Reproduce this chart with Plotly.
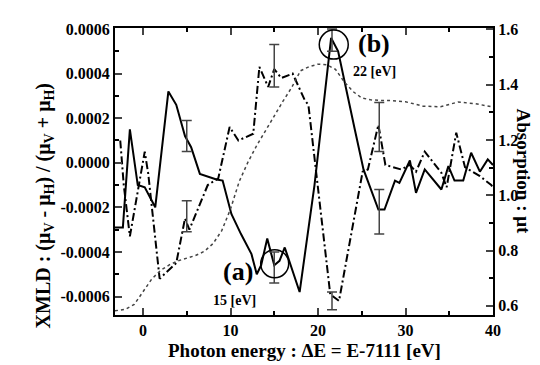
import plotly.graph_objects as go

# ---- data ----
solid_x = [-3.2, -2.3, -1.5, -0.6, 0.2, 1.4, 2.9, 3.8, 4.8, 5.5, 6.5, 8.4, 9.1, 10.1, 11.2, 12.4, 13.0, 13.5,
           14.2, 15.0, 15.6, 16.2, 17.9, 19.6, 21.5, 22.3, 24.2, 25.2, 26.9, 27.6, 28.8, 29.3, 30.5, 31.2,
           32.2, 34.1, 34.9, 35.6, 36.6, 37.5, 38.5, 39.4, 40.0]
solid_y = [-0.00029, -0.00029, 0.00015, -0.00010, -0.00011, -0.00020, 0.00032, 0.00026, 0.00012, 0.00007,
           -0.00005, -0.000075, -0.00008, -0.00023, -0.00032, -0.00041, -0.00050, -0.00046,
           -0.00034, -0.00046, -0.00044, -0.00038, -0.00058, -0.00010, 0.00056, 0.00050, 0.00015, -0.00003,
           -0.00021, -0.00021, -0.00008, -0.00009, 0.00001, -0.000135,
           -0.00003, -0.00012, -0.000015, -0.00008, -0.00008, 0.000045, -0.00004, 0.000015, -0.00001]

dash_x = [-2.6, -2.2, -1.5, 0.2, 0.6, 1.9, 3.8, 4.8, 5.3, 7.4, 8.6, 9.9, 10.9, 12.6, 13.3, 14.3, 15.0, 15.8,
          17.1, 18.5, 18.9, 21.4, 22.4, 25.1, 25.7, 26.9, 27.7, 29.5, 30.5, 31.2, 32.2, 34.1, 34.7, 35.8,
          36.8, 38.5, 39.8, 40.0]
dash_y = [0.00010, -0.00010, -0.00033, 0.00005, -0.00005, -0.00052, -0.00045, -0.00025, -0.00030, -0.00010,
          -0.00007, 0.00016, 0.00010, 0.00013, 0.00043, 0.00034, 0.00042, 0.00038,
          0.00040, 0.00028, 0.00026, -0.00059, -0.00062, -0.00004, -0.00003, 0.00017, -0.00001, -0.00003,
          -0.00001, -0.00004, 0.00005, -0.000045, -0.00011, 0.000135,
          -0.00002, -0.00006, -0.00010, -0.00011]

abs_x = [-3.2, -2.0, -1.0, 0.0, 1.0, 2.0, 3.0, 4.0, 5.0, 6.0, 7.0, 8.0, 9.0, 10.0, 11.0, 12.0, 13.0, 14.0,
         15.0, 16.0, 17.0, 18.0, 19.0, 20.0, 21.0, 22.0, 23.0, 24.0, 25.0, 26.0, 27.0, 28.0, 30.0, 32.0,
         34.0, 36.0, 38.0, 40.0]
abs_y = [0.582, 0.588, 0.605, 0.650, 0.697, 0.728, 0.748, 0.763, 0.773, 0.782, 0.797, 0.825, 0.872, 0.950,
         1.050, 1.120, 1.180, 1.235, 1.290, 1.340, 1.390, 1.450, 1.465, 1.474, 1.472, 1.455, 1.410, 1.375,
         1.352, 1.345, 1.343, 1.343, 1.338, 1.322, 1.320, 1.337, 1.331, 1.319]

err_x = [5, 15, 21.6, 27]
err_solid_y = [0.00012, -0.00047, 0.00055, -0.00022]
err_solid_e = [0.00007, 0.00007, 0.00005, 0.00010]
err_dash_y = [-0.00024, 0.000435, -0.00062, 0.00016]
err_dash_e = [0.00007, 0.000095, 0.00004, 0.00011]

left_ticks = [-0.0006, -0.0004, -0.0002, 0.0, 0.0002, 0.0004, 0.0006]
left_ticktext = ["-0.0006", "-0.0004", "-0.0002", "0.0000", "0.0002", "0.0004", "0.0006"]
right_ticks = [0.6, 0.8, 1.0, 1.2, 1.4, 1.6]
right_ticktext = ["0.6", "0.8", "1.0", "1.2", "1.4", "1.6"]
x_ticks = [0, 10, 20, 30, 40]

FONT = "Liberation Serif"

fig = go.Figure()
fig.add_trace(go.Scatter(x=abs_x, y=abs_y, yaxis="y2", mode="lines",
                         line=dict(color="#444", width=1.5, dash="dot"), showlegend=False))
fig.add_trace(go.Scatter(x=dash_x, y=dash_y, mode="lines",
                         line=dict(color="black", width=2, dash="8px,3px,2px,3px"), showlegend=False))
fig.add_trace(go.Scatter(x=solid_x, y=solid_y, mode="lines",
                         line=dict(color="black", width=2), showlegend=False))
fig.add_trace(go.Scatter(x=err_x, y=err_solid_y, mode="markers", marker=dict(size=1, color="rgba(0,0,0,0)"),
                         error_y=dict(type="data", array=err_solid_e, color="#444", thickness=1.5, width=5),
                         showlegend=False))
fig.add_trace(go.Scatter(x=err_x, y=err_dash_y, mode="markers", marker=dict(size=1, color="rgba(0,0,0,0)"),
                         error_y=dict(type="data", array=err_dash_e, color="#444", thickness=1.5, width=5),
                         showlegend=False))

circ = dict(type="circle", xref="x", yref="y", xsizemode="pixel", ysizemode="pixel",
            line=dict(color="black", width=1.5))
fig.add_shape(**circ, xanchor=15.05, yanchor=-0.000453, x0=-14, x1=14, y0=-14, y1=14)
fig.add_shape(**circ, xanchor=21.8, yanchor=0.00053, x0=-14.5, x1=14.5, y0=-14.5, y1=14.5)

bold = dict(family=FONT, color="black", weight="bold")
fig.add_annotation(x=10.8, y=-0.00049, text="(a)", showarrow=False, font=dict(size=26, **bold))
fig.add_annotation(x=10.4, y=-0.00062, text="15 [eV]", showarrow=False, font=dict(size=14, **bold))
fig.add_annotation(x=26.4, y=0.000535, text="(b)", showarrow=False, font=dict(size=26, **bold))
fig.add_annotation(x=26.5, y=0.00041, text="22 [eV]", showarrow=False, font=dict(size=14, **bold))

fig.add_annotation(xref="paper", yref="paper", x=-0.225, y=0.38, textangle=-90, showarrow=False,
                   text="XMLD : (μ<sub>V</sub> - μ<sub>H</sub>) / (μ<sub>V</sub> + μ<sub>H</sub>)",
                   font=dict(size=20, **bold))
fig.add_annotation(xref="paper", yref="paper", x=1.115, y=0.50, textangle=90, showarrow=False,
                   text="Absorption : μt", font=dict(size=19, **bold))
fig.add_annotation(xref="paper", yref="paper", x=0.5, y=-0.125, yanchor="middle", showarrow=False,
                   text="Photon energy : ΔE = E-7111 [eV]", font=dict(size=19, **bold))

tickfont = dict(family=FONT, size=16, color="black", weight="bold")
fig.update_layout(
    width=540, height=365,
    margin=dict(l=107, r=55, t=20, b=58),
    paper_bgcolor="white", plot_bgcolor="white",
    font=dict(family=FONT),
    xaxis=dict(range=[-3.2, 40], tickvals=x_ticks, ticks="inside", ticklen=7, tickwidth=1.5,
               showline=True, linecolor="black", linewidth=2, mirror="ticks", showgrid=False, zeroline=False,
               tickfont=tickfont,
               minor=dict(dtick=5, tick0=0, ticks="inside", ticklen=4, tickwidth=1.5, tickcolor="black")),
    yaxis=dict(range=[-0.000683, 0.0006045], tickvals=left_ticks, ticktext=left_ticktext,
               ticks="inside", ticklen=7, tickwidth=1.5, showline=True, linecolor="black", linewidth=2,
               showgrid=False, zeroline=False, tickfont=tickfont,
               minor=dict(dtick=0.0001, tick0=0, ticks="inside", ticklen=4, tickwidth=1.5, tickcolor="black")),
    yaxis2=dict(range=[0.567, 1.6047], overlaying="y", side="right", tickvals=right_ticks,
                ticktext=right_ticktext, ticks="inside", ticklen=7, tickwidth=1.5, showline=True,
                linecolor="black", linewidth=2, showgrid=False, zeroline=False, tickfont=tickfont,
                minor=dict(dtick=0.1, tick0=0, ticks="inside", ticklen=4, tickwidth=1.5, tickcolor="black")),
)

fig.write_html("out.html")
